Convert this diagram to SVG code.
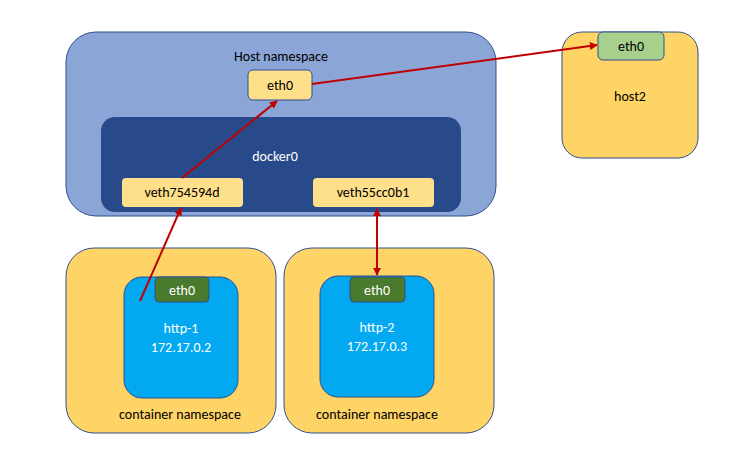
<svg xmlns="http://www.w3.org/2000/svg" width="729" height="460" viewBox="0 0 729 460">
<style>
text{font-family:Calibri,Carlito,"Liberation Sans",sans-serif;font-size:14px;text-anchor:middle}
.w{fill:#fff}
.ln{stroke:#c00000;stroke-width:2;fill:none}
.st{stroke:#2f4f8f;stroke-width:1}
</style>
<defs>
<marker id="ah" viewBox="0 0 10 10" refX="9" refY="5" markerWidth="4" markerHeight="4" orient="auto-start-reverse"><path d="M0,0L10,5L0,10z" fill="#c00000"/></marker>
</defs>
<rect width="729" height="460" fill="#fff"/>
<g id="host">
<rect x="66" y="32" width="430" height="184" rx="30" fill="#8aa5d6" class="st"/>
<text x="281" y="61">Host namespace</text>
</g>
<g id="docker0">
<rect x="101" y="117" width="360" height="95" rx="14" fill="#284a8a"/>
<text x="275" y="161" class="w">docker0</text>
</g>
<g id="eth0-host"><rect x="248" y="70" width="64" height="30" rx="5" fill="#ffe08a" class="st"/><text x="280" y="90">eth0</text></g>
<g id="veth1"><rect x="122" y="178" width="121" height="29" rx="4" fill="#ffe08a"/><text x="182" y="197">veth754594d</text></g>
<g id="veth2"><rect x="313" y="178" width="121" height="29" rx="4" fill="#ffe08a"/><text x="373" y="197">veth55cc0b1</text></g>
<g id="host2">
<rect x="562" y="32" width="136" height="126" rx="20" fill="#ffd466" class="st"/>
<rect x="598" y="32" width="66" height="28" rx="5" fill="#a8d08d" class="st"/>
<text x="631" y="51">eth0</text>
<text x="630" y="101">host2</text>
</g>
<g id="c1">
<rect x="66" y="248" width="210" height="185" rx="28" fill="#ffd466" class="st"/>
<rect x="124" y="277" width="114" height="121" rx="18" fill="#03a9f0" class="st"/>
<rect x="155" y="277" width="54" height="25" rx="4" fill="#4a7a2e" class="st"/>
<text x="182" y="295" class="w">eth0</text>
<text x="181" y="333" class="w">http-1</text>
<text x="181" y="352" class="w">172.17.0.2</text>
<text x="180" y="419">container namespace</text>
</g>
<g id="c2">
<rect x="284" y="248" width="210" height="185" rx="28" fill="#ffd466" class="st"/>
<rect x="320" y="276" width="114" height="121" rx="18" fill="#03a9f0" class="st"/>
<rect x="350" y="277" width="55" height="25" rx="4" fill="#4a7a2e" class="st"/>
<text x="377" y="295" class="w">eth0</text>
<text x="377" y="332" class="w">http-2</text>
<text x="377" y="351" class="w">172.17.0.3</text>
<text x="377" y="419">container namespace</text>
</g>
<g id="connectors">
<line x1="182" y1="178" x2="277" y2="101" class="ln" marker-end="url(#ah)"/>
<line x1="140" y1="301" x2="181" y2="208" class="ln" marker-end="url(#ah)"/>
<line x1="312" y1="84" x2="597" y2="45" class="ln" marker-end="url(#ah)"/>
<line x1="377" y1="209" x2="377" y2="275" class="ln" stroke-width="3" marker-start="url(#ah)" marker-end="url(#ah)"/>
</g>
</svg>
